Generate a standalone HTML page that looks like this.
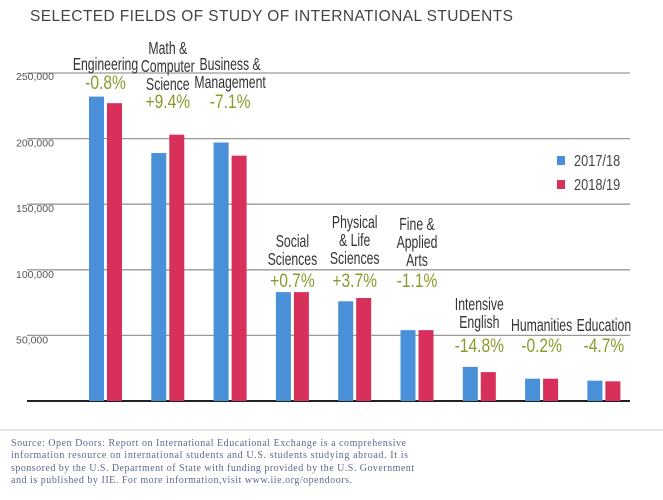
<!DOCTYPE html>
<html><head><meta charset="utf-8"><style>
html,body{margin:0;padding:0;background:#fff;}
svg{display:block;}
.cond{font-family:"Liberation Sans",sans-serif;}
</style></head><body>
<svg id="chart" width="663" height="500" viewBox="0 0 663 500">
<text x="30" y="21" font-family="Liberation Sans, sans-serif" font-size="15.5" textLength="483" lengthAdjust="spacing" fill="#444">SELECTED FIELDS OF STUDY OF INTERNATIONAL STUDENTS</text>
<g id="grid"></g><g id="bars"></g><g id="labels"></g>
<g>
<rect x="557" y="156" width="8" height="9" fill="#4a90d9"/>
<text transform="translate(574,166) scale(0.8,1)" class="cond" font-size="16" fill="#444">2017/18</text>
<rect x="557" y="180" width="8" height="9" fill="#d7305a"/>
<text transform="translate(574,190) scale(0.8,1)" class="cond" font-size="16" fill="#444">2018/19</text>
</g>
<line x1="0" y1="430" x2="663" y2="430" stroke="#ddd" stroke-width="1.5"/>
<g font-family="Liberation Serif, serif" font-size="10" fill="#5a6a8c">
<text x="11" y="446" textLength="395">Source: Open Doors: Report on International Educational Exchange is a comprehensive</text>
<text x="11" y="458" textLength="397">information resource on international students and U.S. students studying abroad.  It is</text>
<text x="11" y="471" textLength="403">sponsored by the U.S. Department of State with funding provided by the U.S. Government</text>
<text x="11" y="483" textLength="341">and is published by IIE. For more information,visit www.iie.org/opendoors.</text>
</g>
</svg>
<script>
const categories = ["Engineering","Math & Computer Science","Business & Management","Social Sciences","Physical & Life Sciences","Fine & Applied Arts","Intensive English","Humanities","Education"];
const values2017 = [232000,189000,197000,83000,76000,54000,26000,17000,15500];
const values2018 = [227000,203000,187000,83000,78500,54000,22000,17000,15000];
const changes = ["-0.8%","+9.4%","-7.1%","+0.7%","+3.7%","-1.1%","-14.8%","-0.2%","-4.7%"];
const labelLines = [["Engineering"],["Math &","Computer","Science"],["Business &","Management"],["Social","Sciences"],["Physical","& Life","Sciences"],["Fine &","Applied","Arts"],["Intensive","English"],["Humanities"],["Education"]];
const yTicks = [50000,100000,150000,200000,250000];
const yTickLabels = ["50,000","100,000","150,000","200,000","250,000"];

const NS="http://www.w3.org/2000/svg";
const y0=401, pxPer=328/250000;
const y=v=>y0-v*pxPer;
const x=i=>89+i*62.3;
function mk(tag,attrs,parent){const e=document.createElementNS(NS,tag);for(const k in attrs)e.setAttribute(k,attrs[k]);parent.appendChild(e);return e;}
const grid=document.getElementById('grid'),bars=document.getElementById('bars'),labels=document.getElementById('labels');
yTicks.forEach((t,i)=>{
  const l=mk('line',{x1:27,x2:630,y1:y(t),y2:y(t),stroke:'#999','stroke-width':1.3},grid);
  
  
  const tx=mk('text',{x:16,y:y(t)+(i==4?7:8),'font-family':'Liberation Sans, sans-serif','font-size':10.5,fill:'#555'},grid);
  tx.textContent=yTickLabels[i];
  
  
});
const ax=mk('line',{x1:27,x2:630,y1:y0,y2:y0,stroke:'#222','stroke-width':2},grid);


const nameBase=[70,54,70,247,228,230,310,331,331];
const pctBase=[89,108,108,287,287,287,352,352,352];
categories.forEach((c,i)=>{
  const b1=mk('rect',{x:x(i),y:y(values2017[i]),width:15,height:values2017[i]*pxPer,fill:'#4a90d9'},bars);
  
  
  const b2=mk('rect',{x:x(i)+18,y:y(values2018[i]),width:15,height:values2018[i]*pxPer,fill:'#d7305a'},bars);
  
  
  const cx=x(i)+16.5;
  labelLines[i].forEach((ln,j)=>{
    const t=mk('text',{transform:'translate('+cx+','+(nameBase[i]+j*18)+') scale(0.7,1)','text-anchor':'middle','class':'cond','font-size':17.5,fill:'#333'},labels);
    t.textContent=ln;
    
    
  });
  const p=mk('text',{transform:'translate('+cx+','+pctBase[i]+') scale(0.82,1)','text-anchor':'middle','class':'cond','font-size':19,fill:'#8c9a2c'},labels);
  p.textContent=changes[i];
  
  
});
</script>
</body></html>
